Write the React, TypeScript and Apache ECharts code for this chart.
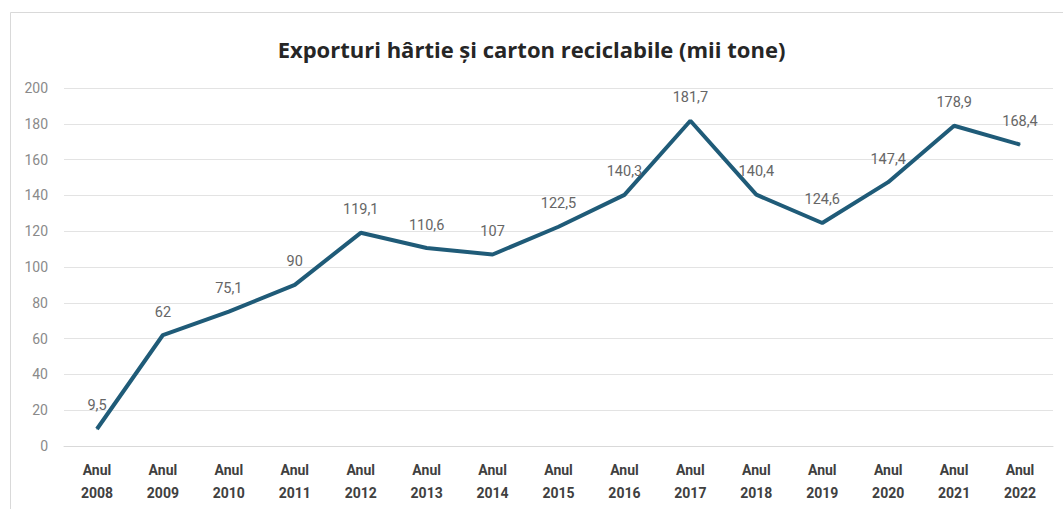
import React, { useEffect, useRef } from "react";
import * as echarts from "echarts";

const categories = ["Anul\n2008", "Anul\n2009", "Anul\n2010", "Anul\n2011", "Anul\n2012", "Anul\n2013", "Anul\n2014", "Anul\n2015", "Anul\n2016", "Anul\n2017", "Anul\n2018", "Anul\n2019", "Anul\n2020", "Anul\n2021", "Anul\n2022"];
const values = [9.5, 62, 75.1, 90, 119.1, 110.6, 107, 122.5, 140.3, 181.7, 140.4, 124.6, 147.4, 178.9, 168.4];
const titleText = "Exporturi hârtie și carton reciclabile (mii tone)";

export default function App() {
  const ref = useRef<HTMLDivElement>(null);
  useEffect(() => {
    const chart = echarts.init(ref.current!, null, { renderer: "svg" });
    chart.setOption({
      animation: false,
      backgroundColor: "#ffffff",
      title: {
        text: titleText,
        left: "center",
        top: 33,
        textStyle: { fontFamily: "Open Sans", fontWeight: "bold", fontSize: 22, color: "#262626" },
      },
      graphic: [
        {
          type: "rect",
          shape: { x: 10.5, y: 12.5, width: 1070, height: 520 },
          style: { fill: "none", stroke: "#d9d9d9", lineWidth: 1 },
          silent: true,
        },
      ],
      grid: { left: 64, right: 10, top: 88, bottom: 63, containLabel: false },
      xAxis: {
        type: "category",
        data: categories,
        boundaryGap: true,
        axisLine: { show: true, lineStyle: { color: "#d9d9d9" } },
        axisTick: { show: false },
        axisLabel: {
          interval: 0,
          margin: 12,
          color: "#404040",
          fontFamily: "Roboto",
          fontWeight: "bold",
          fontSize: 14,
          lineHeight: 23,
        },
      },
      yAxis: {
        type: "value",
        min: 0,
        max: 200,
        interval: 20,
        axisLine: { show: false },
        axisTick: { show: false },
        splitLine: { lineStyle: { color: "#e3e3e3", width: 1 } },
        axisLabel: { color: "#8a8a8a", fontFamily: "Roboto", fontSize: 14, margin: 16 },
      },
      series: [
        {
          type: "line",
          data: values,
          symbol: "circle",
          symbolSize: 1,
          showSymbol: true,
          itemStyle: { color: "#1f5b78" },
          lineStyle: { color: "#1f5b78", width: 4 },
          label: {
            show: true,
            position: "top",
            distance: 15,
            color: "#666666",
            fontFamily: "Roboto",
            fontSize: 14.5,
            formatter: (p: any) => String(p.value).replace(".", ","),
          },
        },
      ],
    });
    return () => chart.dispose();
  }, []);
  return <div ref={ref} style={{ position: "fixed", left: 0, top: 0, width: 1063, height: 509 }} />;
}
